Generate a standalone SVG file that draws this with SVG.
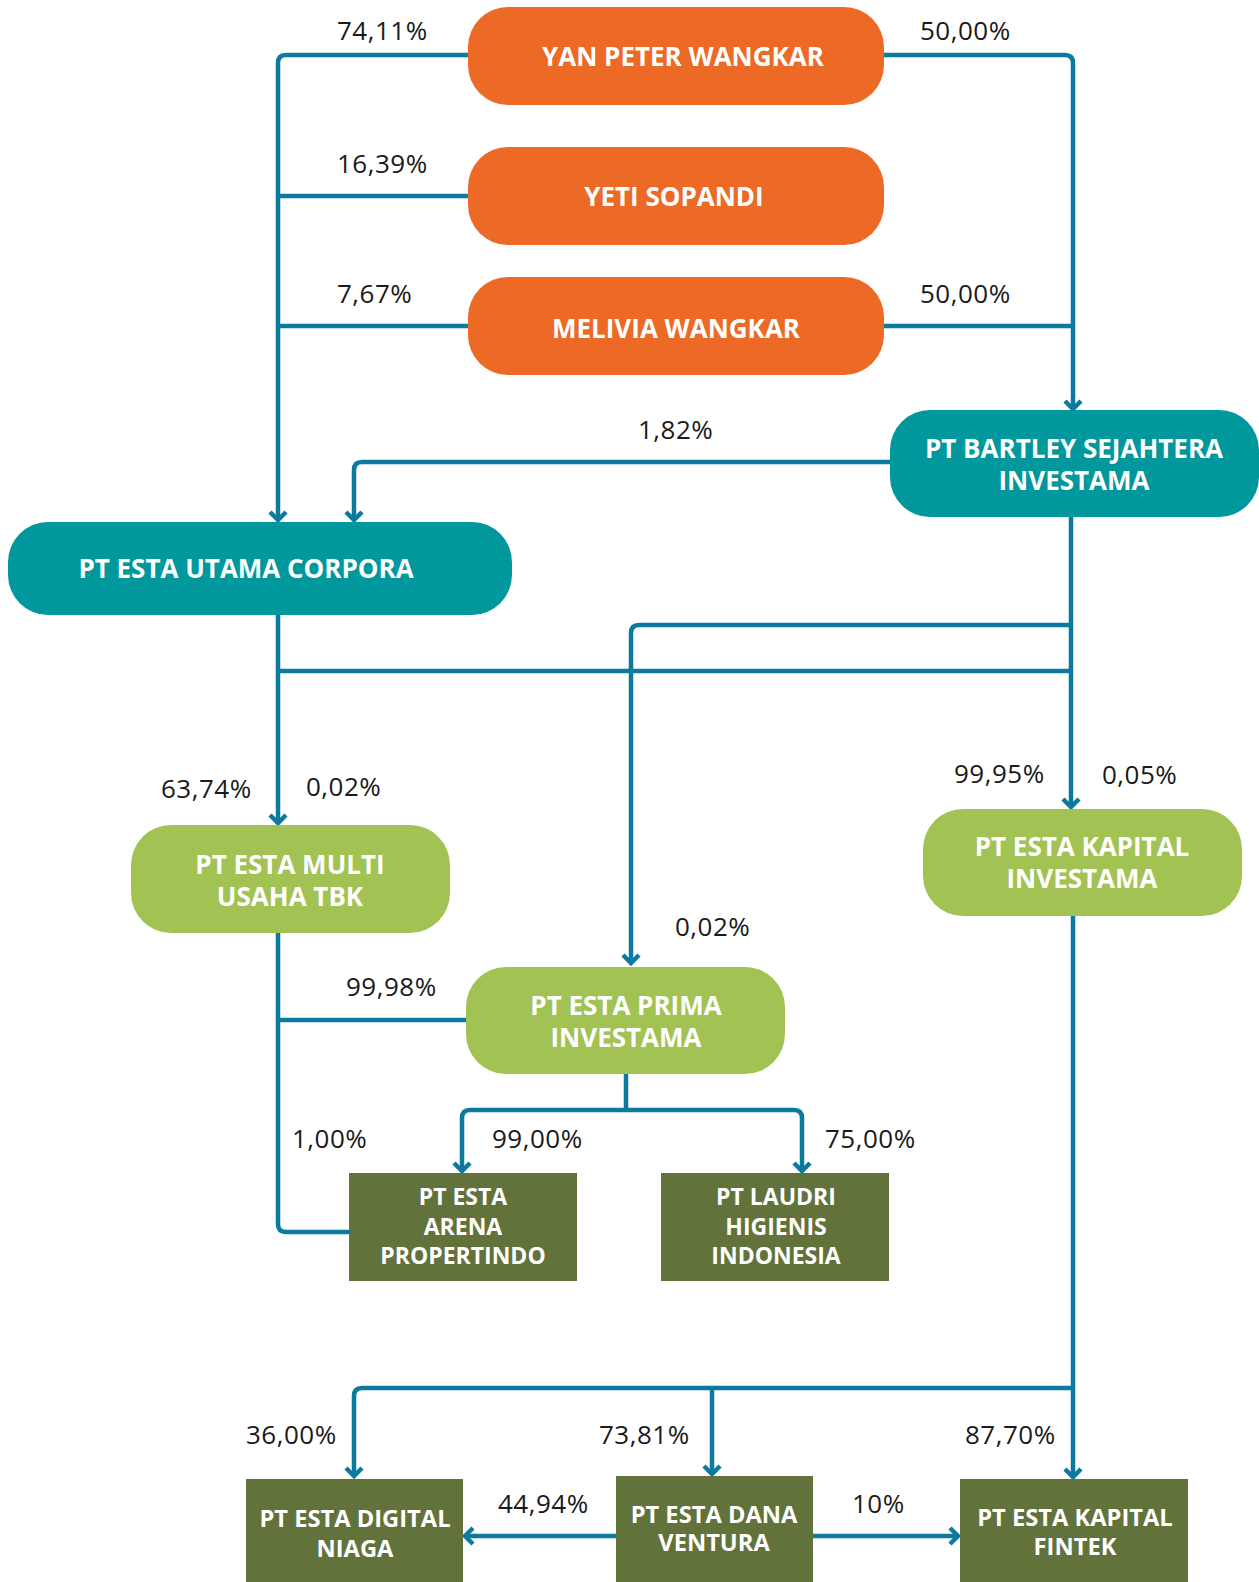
<svg xmlns="http://www.w3.org/2000/svg" width="1259" height="1582" viewBox="0 0 1259 1582">
<defs>
<style>
.ln{fill:none;stroke:#0B7A9E;stroke-width:4.5;stroke-linejoin:round}
.lbl{font-family:"Open Sans","Liberation Sans",sans-serif;font-size:26px;letter-spacing:0.5px;fill:#1a1a1a}
.nt{font-family:"Open Sans","Liberation Sans",sans-serif;font-size:26px;font-weight:bold;fill:#ffffff;text-anchor:middle}
.ns{font-family:"Open Sans","Liberation Sans",sans-serif;font-size:23px;font-weight:bold;fill:#ffffff;text-anchor:middle}
.nb{font-family:"Open Sans","Liberation Sans",sans-serif;font-size:23.7px;font-weight:bold;fill:#ffffff;text-anchor:middle}
.or{fill:#EC6A25}
.tl{fill:#00989C}
.lg{fill:#A2C354}
.dg{fill:#61723A}
</style>
<marker id="ah" viewBox="-12 -12 16 24" refX="0" refY="0" markerWidth="16" markerHeight="24" markerUnits="userSpaceOnUse" orient="auto">
<path d="M-8,-8 L0,0 L-8,8" fill="none" stroke="#0B7A9E" stroke-width="4.5" stroke-linejoin="miter"/>
</marker>
</defs>
<rect width="1259" height="1582" fill="#ffffff"/>
<g id="connectors">
<path class="ln" d="M468,55 H286 Q278,55 278,63 V520" marker-end="url(#ah)"/>
<path class="ln" d="M468,196 H278"/>
<path class="ln" d="M468,326 H278"/>
<path class="ln" d="M884,55 H1065 Q1073,55 1073,63 V409" marker-end="url(#ah)"/>
<path class="ln" d="M884,326 H1073"/>
<path class="ln" d="M890,462 H362 Q354,462 354,470 V520" marker-end="url(#ah)"/>
<path class="ln" d="M278,615 V823" marker-end="url(#ah)"/>
<path class="ln" d="M278,671 H1071"/>
<path class="ln" d="M1071,517 V807" marker-end="url(#ah)"/>
<path class="ln" d="M1071,625 H639 Q631,625 631,633 V963" marker-end="url(#ah)"/>
<path class="ln" d="M278,933 V1224 Q278,1232 286,1232 H349"/>
<path class="ln" d="M278,1020 H466"/>
<path class="ln" d="M626,1074 V1110"/>
<path class="ln" d="M626,1110 H470 Q462,1110 462,1118 V1171" marker-end="url(#ah)"/>
<path class="ln" d="M626,1110 H794 Q802,1110 802,1118 V1171" marker-end="url(#ah)"/>
<path class="ln" d="M1073,916 V1477" marker-end="url(#ah)"/>
<path class="ln" d="M1073,1388 H362 Q354,1388 354,1396 V1476" marker-end="url(#ah)"/>
<path class="ln" d="M712,1388 V1474" marker-end="url(#ah)"/>
<path class="ln" d="M616,1536 H465" marker-end="url(#ah)"/>
<path class="ln" d="M813,1536 H958" marker-end="url(#ah)"/>
</g>
<g id="labels">
<text class="lbl" x="337" y="40">74,11%</text>
<text class="lbl" x="920" y="40">50,00%</text>
<text class="lbl" x="337" y="173">16,39%</text>
<text class="lbl" x="337" y="303">7,67%</text>
<text class="lbl" x="920" y="303">50,00%</text>
<text class="lbl" x="638" y="439">1,82%</text>
<text class="lbl" x="161" y="798">63,74%</text>
<text class="lbl" x="306" y="796">0,02%</text>
<text class="lbl" x="954" y="783">99,95%</text>
<text class="lbl" x="1102" y="784">0,05%</text>
<text class="lbl" x="675" y="936">0,02%</text>
<text class="lbl" x="346" y="996">99,98%</text>
<text class="lbl" x="292" y="1148">1,00%</text>
<text class="lbl" x="492" y="1148">99,00%</text>
<text class="lbl" x="825" y="1148">75,00%</text>
<text class="lbl" x="246" y="1444">36,00%</text>
<text class="lbl" x="599" y="1444">73,81%</text>
<text class="lbl" x="965" y="1444">87,70%</text>
<text class="lbl" x="498" y="1513">44,94%</text>
<text class="lbl" x="852" y="1513">10%</text>
</g>
<g id="yan-peter-wangkar">
<rect class="or" x="468" y="7" width="416" height="98" rx="40"/>
<text class="nt" x="683" y="66">YAN PETER WANGKAR</text>
</g>
<g id="yeti-sopandi">
<rect class="or" x="468" y="147" width="416" height="98" rx="40"/>
<text class="nt" x="674" y="206">YETI SOPANDI</text>
</g>
<g id="melivia-wangkar">
<rect class="or" x="468" y="277" width="416" height="98" rx="40"/>
<text class="nt" x="676" y="338">MELIVIA WANGKAR</text>
</g>
<g id="pt-bartley">
<rect class="tl" x="890" y="410" width="369" height="107" rx="40"/>
<text class="nt" x="1074" y="458">PT BARTLEY SEJAHTERA<tspan x="1074" dy="32">INVESTAMA</tspan></text>
</g>
<g id="pt-esta-utama-corpora">
<rect class="tl" x="8" y="522" width="504" height="93" rx="40"/>
<text class="nt" x="246" y="578">PT ESTA UTAMA CORPORA</text>
</g>
<g id="pt-esta-multi-usaha">
<rect class="lg" x="131" y="825" width="319" height="108" rx="40"/>
<text class="nt" x="290" y="874">PT ESTA MULTI<tspan x="290" dy="32">USAHA TBK</tspan></text>
</g>
<g id="pt-esta-kapital-investama">
<rect class="lg" x="923" y="809" width="319" height="107" rx="40"/>
<text class="nt" x="1082" y="856">PT ESTA KAPITAL<tspan x="1082" dy="32">INVESTAMA</tspan></text>
</g>
<g id="pt-esta-prima-investama">
<rect class="lg" x="466" y="967" width="319" height="107" rx="40"/>
<text class="nt" x="626" y="1015">PT ESTA PRIMA<tspan x="626" dy="32">INVESTAMA</tspan></text>
</g>
<g id="pt-esta-arena-propertindo">
<rect class="dg" x="349" y="1173" width="228" height="108"/>
<text class="ns" x="463" y="1205">PT ESTA<tspan x="463" dy="30">ARENA</tspan><tspan x="463" dy="29">PROPERTINDO</tspan></text>
</g>
<g id="pt-laudri-higienis-indonesia">
<rect class="dg" x="661" y="1173" width="228" height="108"/>
<text class="ns" x="776" y="1205">PT LAUDRI<tspan x="776" dy="30">HIGIENIS</tspan><tspan x="776" dy="29">INDONESIA</tspan></text>
</g>
<g id="pt-esta-digital-niaga">
<rect class="dg" x="246" y="1479" width="217" height="103"/>
<text class="nb" x="355" y="1527">PT ESTA DIGITAL<tspan x="355" dy="30">NIAGA</tspan></text>
</g>
<g id="pt-esta-dana-ventura">
<rect class="dg" x="616" y="1476" width="197" height="106"/>
<text class="nb" x="714" y="1523">PT ESTA DANA<tspan x="714" dy="28">VENTURA</tspan></text>
</g>
<g id="pt-esta-kapital-fintek">
<rect class="dg" x="960" y="1479" width="228" height="103"/>
<text class="nb" x="1075" y="1526">PT ESTA KAPITAL<tspan x="1075" dy="29">FINTEK</tspan></text>
</g>
</svg>
